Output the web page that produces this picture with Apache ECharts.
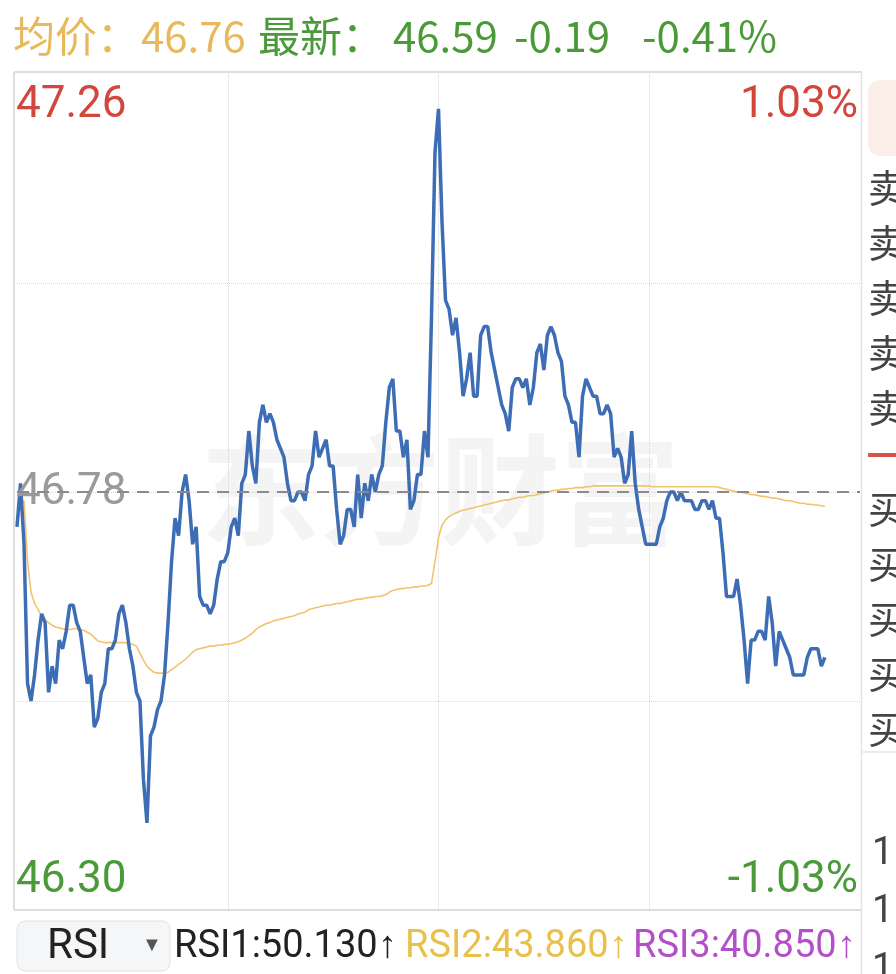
<!DOCTYPE html>
<html><head><meta charset="utf-8">
<script src="https://cdn.jsdelivr.net/npm/echarts@6/dist/echarts.min.js"></script>
<style>html,body{margin:0;padding:0;background:#fff;overflow:hidden}#c{width:896px;height:974px}</style>
</head><body><div id="c"></div>
<script>
// ---- data ----
const prevClose = 46.78;
const yMin = 46.30, yMax = 47.26;
const totalMinutes = 240;
const prices = [
46.74,46.79,46.72,46.56,46.54,46.57,46.61,46.64,46.63,46.55,
46.58,46.56,46.61,46.60,46.62,46.65,46.65,46.63,46.62,46.59,
46.56,46.57,46.51,46.52,46.55,46.56,46.60,46.60,46.61,46.64,
46.65,46.63,46.60,46.58,46.55,46.54,46.45,46.40,46.50,46.51,
46.53,46.54,46.57,46.63,46.70,46.75,46.73,46.78,46.80,46.77,
46.72,46.74,46.66,46.65,46.65,46.64,46.65,46.68,46.70,46.70,
46.71,46.74,46.75,46.73,46.79,46.80,46.85,46.81,46.79,46.86,
46.88,46.86,46.87,46.86,46.84,46.83,46.82,46.79,46.77,46.77,
46.78,46.78,46.77,46.80,46.81,46.85,46.82,46.83,46.84,46.81,
46.81,46.76,46.72,46.73,46.76,46.76,46.74,46.80,46.75,46.79,
46.77,46.80,46.78,46.80,46.81,46.86,46.90,46.91,46.85,46.85,
46.82,46.84,46.76,46.77,46.80,46.80,46.85,46.82,46.98,47.17,
47.22,47.09,47.00,46.99,46.96,46.98,46.94,46.89,46.91,46.94,
46.89,46.89,46.96,46.97,46.97,46.94,46.92,46.90,46.88,46.87,
46.85,46.90,46.91,46.91,46.90,46.91,46.88,46.90,46.94,46.95,
46.92,46.96,46.97,46.96,46.94,46.93,46.89,46.88,46.86,46.86,
46.82,46.89,46.91,46.90,46.89,46.89,46.87,46.87,46.88,46.87,
46.82,46.83,46.82,46.79,46.80,46.85,46.79,46.76,46.74,46.72,
46.72,46.72,46.72,46.74,46.75,46.77,46.78,46.78,46.77,46.78,
46.77,46.77,46.77,46.76,46.76,46.77,46.77,46.76,46.77,46.75,
46.75,46.71,46.66,46.66,46.66,46.68,46.65,46.61,46.56,46.61,
46.61,46.62,46.62,46.61,46.66,46.63,46.58,46.62,46.61,46.60,
46.59,46.57,46.57,46.57,46.57,46.59,46.60,46.60,46.60,46.58,
46.59
];
const avgPrices = [
46.740,46.765,46.770,46.700,46.665,46.652,46.645,46.638,46.633,46.630,
46.627,46.625,46.624,46.623,46.622,46.622,46.623,46.623,46.622,46.621,
46.619,46.617,46.613,46.609,46.608,46.607,46.607,46.607,46.607,46.607,
46.607,46.607,46.606,46.605,46.603,46.595,46.587,46.580,46.576,46.573,
46.572,46.572,46.572,46.573,46.576,46.579,46.582,46.585,46.588,46.592,
46.596,46.599,46.600,46.601,46.602,46.603,46.603,46.604,46.604,46.605,
46.605,46.606,46.607,46.608,46.610,46.612,46.615,46.618,46.622,46.625,
46.627,46.629,46.630,46.632,46.633,46.634,46.635,46.636,46.637,46.638,
46.640,46.641,46.642,46.645,46.646,46.647,46.648,46.649,46.650,46.650,
46.651,46.652,46.652,46.653,46.654,46.655,46.656,46.657,46.657,46.658,
46.659,46.659,46.660,46.660,46.661,46.662,46.665,46.667,46.668,46.669,
46.669,46.670,46.670,46.671,46.671,46.672,46.672,46.673,46.675,46.700,
46.728,46.742,46.748,46.752,46.754,46.756,46.758,46.759,46.760,46.761,
46.762,46.763,46.764,46.765,46.766,46.767,46.768,46.769,46.770,46.771,
46.771,46.772,46.773,46.774,46.774,46.775,46.776,46.776,46.777,46.778,
46.779,46.780,46.781,46.782,46.782,46.783,46.783,46.784,46.784,46.785,
46.785,46.785,46.786,46.786,46.787,46.787,46.787,46.787,46.787,46.787,
46.787,46.787,46.787,46.787,46.787,46.787,46.787,46.787,46.787,46.787,
46.787,46.786,46.786,46.786,46.786,46.786,46.786,46.786,46.786,46.786,
46.786,46.786,46.786,46.786,46.786,46.786,46.786,46.786,46.786,46.786,
46.785,46.784,46.783,46.782,46.781,46.780,46.780,46.779,46.778,46.777,
46.777,46.776,46.775,46.775,46.774,46.773,46.773,46.772,46.771,46.770,
46.770,46.769,46.768,46.767,46.767,46.766,46.766,46.765,46.765,46.764,
46.764
];
const priceLabels = ['47.26', '46.78', '46.30'];
const pctLabels = ['1.03%', '-1.03%'];
const headerAvg = ['均价：', '46.76'];
const headerLast = ['最新：', '46.59', '-0.19', '-0.41%'];
const rsiNames = ['RSI1', 'RSI2', 'RSI3'];
const rsiValues = ['50.130', '43.860', '40.850'];
const sellLabels = ['卖', '卖', '卖', '卖', '卖'];
const buyLabels = ['买', '买', '买', '买', '买'];
const depthDigits = ['1', '1', '1'];
const watermark = '东方财富';

// ---- colours ----
const RED = '#d2463b', GREEN = '#4b9a3a', GOLD = '#e8b95c', GRAY = '#9a9a9a';
const font = 'Roboto, "Noto Sans", sans-serif';
const cjk = '"Noto Sans CJK SC", "Noto Sans", sans-serif';

const chart = echarts.init(document.getElementById('c'), null, {renderer: 'canvas'});

const graphics = [];
const txt = (x, y, text, size, fill, family, extra) => Object.assign({type: 'text', z: 5, x, y, silent: true,
  style: Object.assign({text, fontSize: size, fontFamily: family || font, fill, verticalAlign: 'middle'}, extra || {})});
// watermark
graphics.push({type: 'text', x: 200, y: 490, z: 0, silent: true,
  style: {text: watermark, fontSize: 120, fontWeight: 'bold', fontFamily: cjk, fill: '#f4f4f4', verticalAlign: 'middle'}});
// borders
const lineEl = (x1, y1, x2, y2, stroke, w) => ({type: 'line', z: 1, silent: true,
  shape: {x1, y1, x2, y2}, style: {stroke, lineWidth: w}});
graphics.push(lineEl(14, 72, 862, 72, '#dedede', 2));
graphics.push(lineEl(14, 72, 14, 910, '#dedede', 2));
graphics.push(lineEl(14, 910, 862, 910, '#dedede', 2));
graphics.push(lineEl(861.5, 72, 861.5, 974, '#e3e3e3', 1.5));
// header
graphics.push(txt(13, 36, headerAvg[0], 42, GOLD, cjk));
graphics.push(txt(141, 36, headerAvg[1], 42, GOLD, cjk));
graphics.push(txt(258, 36, headerLast[0], 42, GREEN, cjk));
graphics.push(txt(393, 36, headerLast[1], 42, GREEN, cjk));
graphics.push(txt(514, 36, headerLast[2], 42, GREEN, cjk));
graphics.push(txt(642, 36, headerLast[3], 42, GREEN, cjk));
// axis labels
graphics.push(txt(16, 106, priceLabels[0], 44, RED));
graphics.push(txt(16, 493, priceLabels[1], 44, GRAY));
graphics.push(txt(16, 881, priceLabels[2], 44, GREEN));
graphics.push(txt(858, 106, pctLabels[0], 44, RED, font, {align: 'right'}));
graphics.push(txt(858, 881, pctLabels[1], 44, GREEN, font, {align: 'right'}));
// right order-book panel (cut off)
graphics.push({type: 'rect', z: 1, shape: {x: 868, y: 80, width: 50, height: 76, r: 12}, style: {fill: '#fbeee8'}});
sellLabels.forEach((t, k) => graphics.push(txt(868, 188 + k * 55, t, 38, '#444', cjk)));
graphics.push(lineEl(868, 455, 896, 455, '#d4534a', 4));
buyLabels.forEach((t, k) => graphics.push(txt(868, 509 + k * 55, t, 38, '#444', cjk)));
graphics.push(lineEl(862, 752, 896, 752, '#e6e6e6', 1.5));
depthDigits.forEach((t, k) => graphics.push(txt(872, 854 + k * 58, t, 38, '#444')));
// RSI selector
graphics.push({type: 'rect', z: 1, shape: {x: 17, y: 921, width: 153, height: 50, r: 8},
  style: {fill: '#f5f6f8', stroke: '#e2e2e2', lineWidth: 1}});
graphics.push(txt(47, 947, 'RSI', 42, '#222'));
graphics.push(txt(142, 946, '▼', 20, '#555'));
const rsiColors = ['#222', '#e8c04c', '#b34fc8'];
const rsiX = [174, 405, 633];
rsiNames.forEach((n, k) => graphics.push(txt(rsiX[k], 947, n + ':' + rsiValues[k] + '↑', 38, rsiColors[k])));

const option = {
  animation: false,
  backgroundColor: '#fff',
  grid: {left: 17, right: 36, top: 74, bottom: 64, containLabel: false},
  xAxis: {type: 'value', min: 0, max: totalMinutes, interval: 60,
    axisLine: {show: false}, axisTick: {show: false}, axisLabel: {show: false},
    splitLine: {show: true, showMinLine: false, showMaxLine: false, lineStyle: {type: 'dotted', color: '#d6d6d6', width: 1}}},
  yAxis: [
    {type: 'value', min: yMin, max: yMax, axisLine: {show: false}, axisTick: {show: false},
      axisLabel: {show: false}, splitLine: {show: false}},
    {type: 'value', min: 0, max: 4, interval: 1, axisLine: {show: false}, axisTick: {show: false},
      axisLabel: {show: false},
      splitLine: {show: true, showMinLine: false, showMaxLine: false, lineStyle: {type: 'dotted', color: '#d6d6d6', width: 1}}}
  ],
  graphic: graphics,
  series: [
    {type: 'line', yAxisIndex: 0, data: avgPrices.map((v, i) => [i, v]), showSymbol: false, z: 3,
      lineStyle: {color: '#f1c46c', width: 1.6}, silent: true},
    {type: 'line', yAxisIndex: 0, data: prices.map((v, i) => [i, v]), showSymbol: false, z: 4,
      lineStyle: {color: '#3d6db4', width: 3.5}, silent: true,
      markLine: {silent: true, symbol: 'none', label: {show: false},
        lineStyle: {type: [12, 8], color: '#8a8a8a', width: 2},
        data: [{yAxis: prevClose}]}}
  ]
};
chart.setOption(option);
</script>
</body></html>
